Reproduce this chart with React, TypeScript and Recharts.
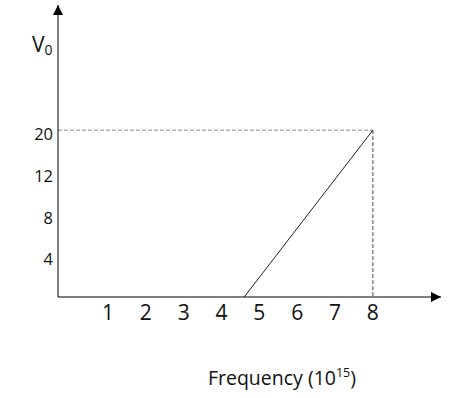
import { LineChart, Line, XAxis, YAxis, ReferenceLine, ReferenceDot, Customized } from 'recharts';

// threshold line: V0 against frequency (x10^15 Hz)
const freq = [4.6, 8];
const v0 = [0, 20];

const xTicks = [1, 2, 3, 4, 5, 6, 7, 8];
const yTicks = [4, 8, 12, 20];
// the y axis in the sketch is spaced per label, not to scale
const yStops = [0, 4, 8, 12, 20];

const X_DOMAIN: [number, number] = [-0.32, 9.8];
const Y_DOMAIN: [number, number] = [0, 44];

const FONT = '"Open Sans", "DejaVu Sans", sans-serif';

const data = freq.map((f, i) => ({ f, v: v0[i] }));

// piecewise scale: each gap between yStops gets the same height
function stopScale(stops: number[]) {
  let dom: number[] = [stops[0], stops[stops.length - 1]];
  let rng: number[] = [0, 1];
  const idx = (v: number) => {
    const n = stops.length - 1;
    let i = 0;
    while (i < n - 1 && v > stops[i + 1]) i++;
    return i + (v - stops[i]) / (stops[i + 1] - stops[i]);
  };
  const scale: any = (v: number) => {
    const a = idx(dom[0]);
    const b = idx(dom[1]);
    return rng[0] + ((idx(Number(v)) - a) / (b - a)) * (rng[1] - rng[0]);
  };
  scale.domain = (d?: number[]) => {
    if (d === undefined) return dom;
    dom = d.map(Number);
    return scale;
  };
  scale.range = (r?: number[]) => {
    if (r === undefined) return rng;
    rng = r.map(Number);
    return scale;
  };
  scale.copy = () => stopScale(stops).domain(dom).range(rng);
  scale.ticks = () => stops;
  return scale;
}

const XTick = (props: any) => {
  const { x, y, payload } = props;
  return (
    <text x={x} y={y + 8} dy="0.72em" textAnchor="middle" fontSize={21} fontFamily={FONT} fill="#111">
      {payload.value}
    </text>
  );
};

const YTick = (props: any) => {
  const { x, y, payload } = props;
  return (
    <text x={x - 5} y={y + 4} dy="0.36em" textAnchor="end" fontSize={16.5} fontFamily={FONT} fill="#111">
      {payload.value}
    </text>
  );
};

const RightArrow = (props: any) => {
  const { cx, cy } = props;
  return <path d={`M${cx},${cy} L${cx - 10},${cy - 5} L${cx - 10},${cy + 5} Z`} fill="#000" />;
};

const UpArrow = (props: any) => {
  const { cx, cy } = props;
  return <path d={`M${cx},${cy} L${cx - 5},${cy + 10} L${cx + 5},${cy + 10} Z`} fill="#000" />;
};

const Titles = () => (
  <g fontFamily={FONT} fill="#111">
    <text x={32} y={52} fontSize={21}>
      V<tspan fontSize={14} dy={3}>0</tspan>
    </text>
    <text x={282} y={385} fontSize={19.5} textAnchor="middle">
      Frequency (10<tspan fontSize={12.5} dy={-8}>15</tspan>
      <tspan dy={8}>)</tspan>
    </text>
  </g>
);

export default function App() {
  return (
    <div style={{ position: 'absolute', left: 0, top: 0, background: '#fff' }}>
      <LineChart width={459} height={398} data={data} margin={{ top: 5, right: 18, bottom: 61, left: 0 }}>
        <XAxis
          dataKey="f"
          type="number"
          domain={X_DOMAIN}
          ticks={xTicks}
          allowDataOverflow
          height={40}
          axisLine={{ stroke: '#000', strokeWidth: 1 }}
          tickLine={false}
          tickSize={0}
          tickMargin={0}
          tick={XTick}
        />
        <YAxis
          type="number"
          domain={Y_DOMAIN}
          scale={stopScale(yStops)}
          ticks={yTicks}
          allowDataOverflow
          width={58}
          axisLine={{ stroke: '#000', strokeWidth: 1 }}
          tickLine={false}
          tickSize={0}
          tickMargin={0}
          tick={YTick}
        />
        <ReferenceLine
          segment={[{ x: X_DOMAIN[0], y: 20 }, { x: 8, y: 20 }]}
          stroke="#8a8a8a"
          strokeDasharray="4 2"
          ifOverflow="visible"
        />
        <ReferenceLine
          segment={[{ x: 8, y: 20 }, { x: 8, y: 0 }]}
          stroke="#444"
          strokeDasharray="4 2"
          ifOverflow="visible"
        />
        <Line
          dataKey="v"
          type="linear"
          stroke="#222"
          strokeWidth={1}
          dot={false}
          activeDot={false}
          isAnimationActive={false}
        />
        <ReferenceDot x={X_DOMAIN[1]} y={0} ifOverflow="visible" shape={RightArrow} />
        <ReferenceDot x={X_DOMAIN[0]} y={Y_DOMAIN[1]} ifOverflow="visible" shape={UpArrow} />
        <Customized component={Titles} />
      </LineChart>
    </div>
  );
}
